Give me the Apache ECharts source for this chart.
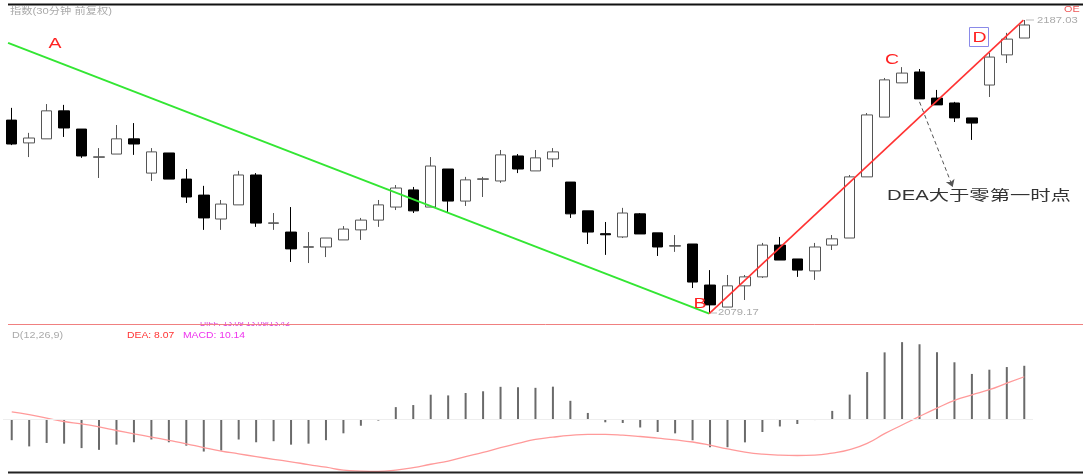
<!DOCTYPE html>
<html><head><meta charset="utf-8">
<script src="https://cdn.jsdelivr.net/npm/echarts@6/dist/echarts.min.js"></script>
<style>html,body{margin:0;padding:0;background:#fff}#c{width:1083px;height:474px}</style>
</head><body><div id="c"></div>
<script>
// ---- data ----
const categories = Array.from({length:59}, (_, i) => 'K' + (i + 1));
const openP  = [2150.2,2141.8,2143.3,2153.6,2146.9,2136.5,2137.7,2143.3,2130.7,2138.1,2128.5,2122.6,2113.8,2119.0,2130.0,2112.2,2109.0,2103.4,2103.5,2106.1,2109.8,2113.4,2118.2,2124.5,2118.2,2132.2,2120.4,2128.4,2127.8,2137.0,2131.5,2135.9,2127.4,2116.8,2108.4,2107.2,2115.7,2108.7,2103.8,2104.6,2089.5,2081.4,2089.2,2092.5,2104.2,2099.1,2094.7,2104.2,2106.8,2129.3,2151.3,2163.9,2167.9,2158.3,2156.5,2151.0,2163.1,2174.2,2180.4];
const closeP = [2141.4,2143.6,2153.6,2147.3,2137.0,2136.7,2143.3,2141.4,2138.5,2128.5,2121.9,2114.2,2119.3,2130.0,2112.3,2112.4,2102.8,2103.6,2106.8,2110.1,2113.4,2119.0,2125.2,2116.8,2133.3,2120.4,2128.2,2128.6,2137.4,2132.2,2136.3,2138.5,2115.7,2109.0,2108.0,2116.0,2108.3,2103.5,2104.0,2090.6,2082.2,2089.2,2092.5,2104.2,2098.7,2095.0,2103.5,2106.5,2129.3,2152.1,2165.0,2167.5,2158.0,2155.8,2151.0,2149.1,2173.4,2180.0,2185.2];
const lowP   = [2141.0,2136.6,2143.3,2144.0,2136.3,2128.9,2137.7,2137.4,2127.8,2128.5,2119.7,2109.8,2109.8,2119.0,2110.9,2109.8,2098.0,2097.6,2099.8,2106.1,2106.1,2110.9,2117.1,2116.0,2118.2,2116.0,2118.6,2121.9,2127.1,2130.7,2131.5,2132.9,2114.2,2104.6,2100.6,2106.8,2108.3,2100.2,2101.7,2088.4,2079.17,2081.4,2084.0,2092.1,2098.7,2092.5,2091.4,2102.4,2106.8,2129.3,2151.3,2163.9,2158.0,2155.8,2149.5,2142.9,2158.7,2171.2,2180.4];
const highP  = [2154.7,2145.5,2156.1,2155.8,2146.9,2139.9,2148.4,2149.1,2139.9,2138.1,2132.2,2126.0,2120.8,2131.5,2130.7,2116.0,2118.2,2109.0,2106.8,2111.2,2114.2,2120.8,2126.3,2125.6,2136.6,2132.2,2129.3,2129.3,2139.2,2137.7,2139.2,2139.9,2127.4,2116.8,2112.7,2117.9,2116.0,2108.7,2107.9,2104.6,2095.0,2093.2,2093.2,2105.0,2107.2,2099.1,2105.0,2107.9,2130.0,2152.8,2165.7,2169.7,2169.0,2161.3,2156.9,2151.0,2174.9,2182.3,2187.03];
const macdHist = [-3.9,-5.07,-4.42,-4.55,-5.39,-5.72,-4.74,-4.29,-3.77,-4.29,-4.94,-6.04,-5.85,-3.77,-4.29,-4.09,-4.74,-4.55,-3.9,-2.6,-1.17,-0.2,2.34,2.73,4.68,4.55,5.0,5.33,6.17,6.11,5.98,6.2,3.53,1.24,-0.52,-0.65,-1.5,-2.35,-2.61,-3.92,-5.23,-5.23,-4.31,-2.35,-1.31,-0.85,-0.1,1.63,4.7,8.95,12.67,14.6,14.2,12.7,10.8,8.6,9.4,9.9,10.14];
const deaLine = [1.45,0.93,0.28,-0.37,-0.83,-1.4,-2.07,-2.7,-3.3,-3.94,-4.59,-5.3,-5.95,-6.47,-7.0,-7.5,-7.97,-8.5,-9.0,-9.55,-9.73,-9.79,-9.55,-9.08,-8.44,-7.85,-7.0,-6.22,-5.3,-4.52,-3.75,-3.33,-3.0,-2.81,-2.81,-2.94,-3.2,-3.52,-3.85,-4.24,-4.83,-5.55,-6.14,-6.53,-6.73,-6.79,-6.73,-6.34,-5.68,-4.5,-2.67,-1.04,0.59,2.15,3.6,4.64,5.62,6.86,8.07];
// trend lines in [bar position, price]
const lineAB = [[-0.21, 2178.6], [39.95, 2079.0]];
const lineBD = [[39.95, 2079.0], [57.95, 2187.0]];
const arrowDEA = [[52.0, 2156.9], [53.9, 2125.6]];
const texts = {title:'指数(30分钟 前复权)', note:'DEA大于零第一时点', hi:'2187.03', lo:'2079.17', macdName:'D(12,26,9)', dea:'DEA: 8.07', macd:'MACD: 10.14', dif:'DIFF: 13.09 13.09/13.42'};

const candles = openP.map((o, i) => [o, closeP[i], lowP[i], highP[i]]);
const FF = '"Liberation Sans", Arial, "Noto Sans CJK SC", sans-serif';
function T(text, x, y, size, color, sx, align) {
  return {type:'text', x:x, y:y, scaleX:sx || 1, z:100,
    style:{text:text, fill:color, fontSize:size, fontFamily:FF, align:align || 'left', verticalAlign:'middle'}};
}
const chart = echarts.init(document.getElementById('c'));
chart.setOption({
  animation:false,
  backgroundColor:'#fff',
  grid:[{left:3, top:8, width:1030, height:314}, {left:3, top:330, width:1030, height:142}],
  xAxis:[
    {type:'category', gridIndex:0, data:categories, show:false, boundaryGap:true},
    {type:'value', gridIndex:0, min:-0.5, max:58.5, show:false},
    {type:'category', gridIndex:1, data:categories, show:false, boundaryGap:true}
  ],
  yAxis:[
    {type:'value', gridIndex:0, min:2075.9, max:2191.45, show:false, splitLine:{show:false}},
    {type:'value', gridIndex:1, min:-9.9, max:16.89, show:false, splitLine:{show:false}}
  ],
  series:[
    {type:'candlestick', xAxisIndex:0, yAxisIndex:0, data:candles, barWidth:11,
     itemStyle:{color:'#fff', color0:'#000', borderColor:'#555', borderColor0:'#000', borderWidth:1}},
    {type:'line', xAxisIndex:1, yAxisIndex:0, data:lineAB, symbol:'none', z:5,
     lineStyle:{color:'#33e633', width:2}},
    {type:'line', xAxisIndex:1, yAxisIndex:0, data:lineBD, symbol:'none', z:5,
     lineStyle:{color:'#ff3333', width:1.6},
     markLine:{silent:true, symbol:['none','arrow'], symbolSize:7, label:{show:false},
       lineStyle:{type:[4,3], color:'#555', width:1},
       data:[[{coord:arrowDEA[0]}, {coord:arrowDEA[1]}]]}},
    {type:'bar', xAxisIndex:2, yAxisIndex:1, data:macdHist, barWidth:2,
     itemStyle:{color:'#6a6a6a'},
     markLine:{silent:true, symbol:'none', label:{show:false}, lineStyle:{color:'#eee', type:'solid', width:1}, data:[{yAxis:0}]}},
    {type:'line', xAxisIndex:2, yAxisIndex:1, data:deaLine, symbol:'none', smooth:true,
     lineStyle:{color:'#ff9a9a', width:1.3}}
  ],
  graphic:[
    {type:'line', z:100, shape:{x1:8, y1:4.5, x2:1083, y2:4.5}, style:{stroke:'#111', lineWidth:2}},
    {type:'line', z:100, shape:{x1:8, y1:472.5, x2:1083, y2:472.5}, style:{stroke:'#222', lineWidth:2}},
    T(texts.title, 10, 12, 9, '#aaa', 1.25),
    T('OE', 1064, 10, 9, '#e55', 1.2),
    T('A', 55, 44, 15, '#f22', 1.3, 'center'),
    T('B', 700, 304, 15, '#f22', 1.3, 'center'),
    T('C', 892, 60, 15, '#f22', 1.3, 'center'),
    {type:'rect', z:100, shape:{x:969.5, y:27.5, width:19, height:19}, style:{fill:'none', stroke:'#8a8ae8', lineWidth:1}},
    T('D', 979.5, 38, 15, '#f22', 1.3, 'center'),
    {type:'line', z:100, shape:{x1:1026, y1:20, x2:1034, y2:20}, style:{stroke:'#bbb', lineWidth:1}},
    T(texts.hi, 1037, 21, 9, '#aaa', 1.25),
    {type:'line', z:100, shape:{x1:711, y1:313, x2:717, y2:313}, style:{stroke:'#bbb', lineWidth:1}},
    T(texts.lo, 718, 313, 9, '#aaa', 1.25),
    T(texts.note, 887, 196, 14, '#333', 1.45),
    T(texts.macdName, 12, 336, 9, '#aaa', 1.2),
    T(texts.dea, 127, 336, 9, '#f33', 1.15),
    T(texts.macd, 183, 336, 9, '#e3e', 1.15),
    T(texts.dif, 200, 324, 9, '#d4d', 0.92),
    {type:'rect', z:101, shape:{x:195, y:310, width:110, height:12}, style:{fill:'#fff'}},
    {type:'line', z:102, shape:{x1:8, y1:324.5, x2:1083, y2:324.5}, style:{stroke:'#f08080', lineWidth:1}}
  ]
});
</script></body></html>
